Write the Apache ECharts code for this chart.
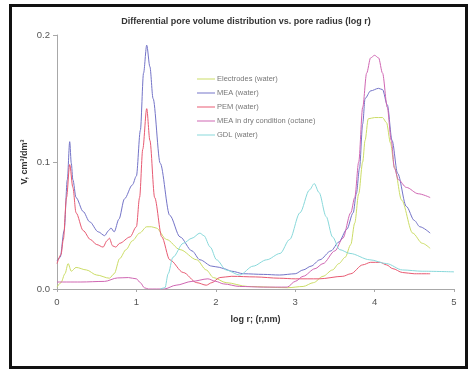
<!DOCTYPE html>
<html>
<head>
<meta charset="utf-8">
<script src="https://cdn.jsdelivr.net/npm/echarts@6/dist/echarts.min.js"></script>
<style>
html,body{margin:0;padding:0;background:#fff;}
#chart{width:475px;height:380px;}
</style>
</head>
<body>
<div id="chart"></div>
<script>
var titleText = 'Differential pore volume distribution vs. pore radius (log r)';
var xAxisName = 'log r; (r,nm)';
var yAxisName = 'V, cm\u00b3/dm\u00b3';
var seriesNames = ['Electrodes (water)', 'MEA (water)', 'PEM (water)', 'MEA in dry condition (octane)', 'GDL (water)'];
var seriesColors = ['#cbdc66', '#7474c8', '#e85a72', '#cf66b2', '#88d8da'];

var electrodes = [[0,0.0015],[0.05,0.005],[0.1,0.012],[0.14,0.02],[0.18,0.014],[0.24,0.017],[0.37,0.015],[0.5,0.011],[0.66,0.0085],[0.72,0.012],[0.79,0.024],[0.87,0.031],[0.95,0.038],[1.04,0.044],[1.13,0.049],[1.19,0.049],[1.25,0.048],[1.38,0.039],[1.55,0.031],[1.76,0.023],[1.88,0.015],[1.97,0.009],[2.13,0.005],[2.4,0.002],[2.9,0.001],[3.1,0.002],[3.23,0.005],[3.35,0.01],[3.47,0.015],[3.55,0.02],[3.63,0.025],[3.7,0.035],[3.75,0.052],[3.8,0.075],[3.85,0.1],[3.88,0.117],[3.92,0.134],[4.0,0.135],[4.1,0.135],[4.15,0.131],[4.2,0.115],[4.25,0.096],[4.34,0.07],[4.48,0.044],[4.6,0.036],[4.7,0.032]];

var meaWater = [[0,0.022],[0.04,0.025],[0.09,0.046],[0.13,0.086],[0.16,0.116],[0.18,0.099],[0.2,0.086],[0.24,0.072],[0.33,0.061],[0.41,0.053],[0.52,0.045],[0.6,0.042],[0.65,0.046],[0.68,0.048],[0.72,0.045],[0.78,0.055],[0.85,0.071],[0.95,0.082],[1.0,0.089],[1.05,0.125],[1.09,0.17],[1.13,0.192],[1.17,0.175],[1.21,0.15],[1.3,0.099],[1.42,0.058],[1.55,0.041],[1.7,0.03],[1.8,0.023],[1.95,0.018],[2.05,0.017],[2.1,0.016],[2.2,0.014],[2.35,0.012],[2.6,0.0115],[2.8,0.011],[3.0,0.012],[3.1,0.015],[3.2,0.018],[3.31,0.023],[3.45,0.03],[3.55,0.037],[3.65,0.047],[3.73,0.06],[3.77,0.075],[3.81,0.095],[3.85,0.13],[3.88,0.15],[3.95,0.156],[4.05,0.158],[4.1,0.157],[4.16,0.145],[4.22,0.117],[4.29,0.091],[4.4,0.065],[4.5,0.054],[4.57,0.049],[4.7,0.044]];

var pemWater = [[0,0.02],[0.05,0.027],[0.08,0.039],[0.12,0.072],[0.16,0.098],[0.2,0.08],[0.24,0.06],[0.33,0.046],[0.42,0.039],[0.5,0.035],[0.58,0.033],[0.63,0.038],[0.66,0.04],[0.7,0.034],[0.74,0.033],[0.79,0.036],[0.92,0.041],[1.0,0.049],[1.04,0.072],[1.08,0.11],[1.13,0.142],[1.17,0.117],[1.23,0.072],[1.32,0.041],[1.42,0.023],[1.59,0.013],[1.76,0.005],[1.88,0.003],[1.95,0.005],[2.05,0.009],[2.2,0.01],[2.5,0.0095],[2.8,0.0085],[3.0,0.008],[3.3,0.008],[3.6,0.01],[3.7,0.012],[3.85,0.019],[3.95,0.021],[4.07,0.021],[4.15,0.019],[4.23,0.016],[4.35,0.013],[4.5,0.012],[4.7,0.012]];

var meaDry = [[0,0.0055],[0.3,0.0055],[0.6,0.006],[0.76,0.0087],[0.9,0.009],[1.0,0.008],[1.05,0.005],[1.1,0.001],[1.15,0],[1.35,0],[1.5,0.003],[1.7,0.006],[1.9,0.008],[2.0,0.006],[2.1,0.004],[2.3,0.002],[2.6,0.0015],[2.9,0.0015],[3.0,0.006],[3.1,0.01],[3.25,0.016],[3.35,0.02],[3.5,0.03],[3.6,0.04],[3.7,0.06],[3.75,0.072],[3.8,0.1],[3.85,0.143],[3.9,0.17],[3.95,0.182],[4.0,0.184],[4.05,0.182],[4.1,0.17],[4.16,0.143],[4.21,0.117],[4.25,0.095],[4.3,0.086],[4.4,0.08],[4.55,0.075],[4.7,0.072]];

var gdlWater = [[1.3,0],[1.36,0.001],[1.4,0.012],[1.46,0.025],[1.59,0.036],[1.7,0.04],[1.8,0.044],[1.85,0.042],[1.93,0.033],[2.01,0.023],[2.13,0.015],[2.3,0.011],[2.47,0.018],[2.64,0.023],[2.81,0.028],[2.93,0.039],[3.06,0.06],[3.18,0.078],[3.24,0.083],[3.3,0.076],[3.39,0.057],[3.47,0.041],[3.56,0.031],[3.69,0.028],[3.94,0.023],[4.15,0.02],[4.35,0.015],[4.6,0.014],[5.0,0.0135]];

var allData = [electrodes, meaWater, pemWater, meaDry, gdlWater];

var chart = echarts.init(document.getElementById('chart'), null, {renderer: 'canvas'});
var series = allData.map(function (d, i) {
  return {
    name: seriesNames[i],
    type: 'line',
    data: d,
    showSymbol: false,
    smooth: 0.3,
    smoothMonotone: 'x',
    lineStyle: {width: 1, color: seriesColors[i]},
    itemStyle: {color: seriesColors[i]},
    animation: false,
    z: 2 + i
  };
});

chart.setOption({
  backgroundColor: '#fff',
  animation: false,
  title: {
    text: titleText,
    left: 241, top: 12, textAlign: 'center',
    textStyle: {fontFamily: 'Liberation Sans', fontSize: 9, fontWeight: 'bold', color: '#333'}
  },
  legend: {
    orient: 'vertical',
    left: 192, top: 69,
    icon: 'rect',
    itemWidth: 18, itemHeight: 1,
    itemGap: 4,
    textStyle: {fontFamily: 'Liberation Sans', fontSize: 7.5, color: '#777', lineHeight: 10, padding: [0,0,0,-3]},
    data: seriesNames
  },
  grid: {left: 57, right: 21, top: 35, bottom: 91, containLabel: false},
  xAxis: {
    type: 'value', min: 0, max: 5, interval: 1,
    name: xAxisName, nameLocation: 'middle', nameGap: 26, nameMoveOverlap: false,
    nameTextStyle: {fontFamily: 'Liberation Sans', fontSize: 9, fontWeight: 'bold', color: '#333'},
    axisLine: {show: true, lineStyle: {color: '#a8a8a8', width: 1}},
    axisTick: {show: true, length: 3, lineStyle: {color: '#a8a8a8'}},
    axisLabel: {fontFamily: 'Liberation Sans', fontSize: 9.5, color: '#555', margin: 8},
    splitLine: {show: false}
  },
  yAxis: {
    type: 'value', min: 0, max: 0.2, interval: 0.1,
    name: yAxisName, nameLocation: 'middle', nameGap: 28, nameRotate: 90, nameMoveOverlap: false,
    nameTextStyle: {fontFamily: 'Liberation Sans', fontSize: 9, fontWeight: 'bold', color: '#333'},
    axisLine: {show: true, lineStyle: {color: '#a8a8a8', width: 1}},
    axisTick: {show: true, length: 4, lineStyle: {color: '#a8a8a8'}},
    axisLabel: {fontFamily: 'Liberation Sans', fontSize: 9.5, color: '#555', margin: 7,
      formatter: function (v) { return v.toFixed(1); }},
    splitLine: {show: false}
  },
  graphic: [{
    type: 'rect',
    shape: {x: 10.5, y: 5.5, width: 456, height: 362},
    style: {fill: 'none', stroke: '#111', lineWidth: 3},
    silent: true, z: 100
  }],
  series: series
});
</script>
</body>
</html>
